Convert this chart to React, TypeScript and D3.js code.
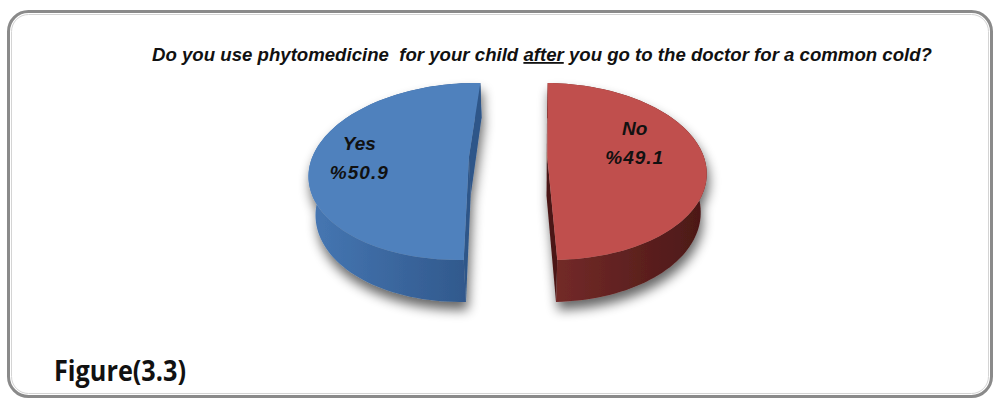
import React from 'react';
import * as d3 from 'd3';

// ---- data ----
const categories = ['No', 'Yes'];
const values = [49.1, 50.9];
const valueLabels = ['%49.1', '%50.9'];
const titleBefore = 'Do you use phytomedicine  for your child ';
const titleUnderlined = 'after';
const titleAfter = ' you go to the doctor for a common cold?';
const figureLabel = 'Figure(3.3)';

// ---- styles ----
const topColors = ['#C0504D', '#4F81BD'];
const wallFrom = ['#752b29', '#4677b3'];
const wallTo = ['#4b1817', '#2f5689'];
// label placement in pie coordinates (angle deg clockwise from back, radius fraction)
const labelPolar = [
  { angle: 73, r: 0.605 },
  { angle: 270, r: 0.7 },
];

const W = 995;
const H = 401;

// 3D projection params
const CX = 523;
const CY = 157;
const F = 802;
const DIST = 5.12;
const CAMX = 0.095;
const PHI = Math.asin(0.55);
const EXPLODE = 0.25;
const THICK = 0.305;

function project(X: number, Y: number, Z: number): [number, number] {
  const s = Math.sin(PHI);
  const c = Math.cos(PHI);
  const depth = DIST - Y * s - Z * c;
  const sy = Y * c - Z * s;
  return [CX + (F * (X - CAMX)) / depth, CY - (F * sy) / depth];
}

export default function App() {
  const start = ((180 - (values[0] / 100) * 360) / 2) * (Math.PI / 180);
  const pie = d3
    .pie<number>()
    .sort(null)
    .startAngle(start)
    .endAngle(start + 2 * Math.PI)
    .value((d) => d);
  const arcs = pie(values);
  const line = d3.line<[number, number]>().x((d) => d[0]).y((d) => d[1]);

  const slices = arcs.map((a, i) => {
    const mid = (a.startAngle + a.endAngle) / 2;
    const ox = Math.sin(mid) * EXPLODE;
    const oz = -Math.cos(mid) * EXPLODE;
    const n = 90;
    const angs = d3.range(n + 1).map((k) => a.startAngle + ((a.endAngle - a.startAngle) * k) / n);
    const rim = (t: number, Y: number) => project(ox + Math.sin(t), Y, oz - Math.cos(t));
    const topArc = angs.map((t) => rim(t, 0));
    const botArc = angs.map((t) => rim(t, -THICK)).reverse();
    const cTop = project(ox, 0, oz);
    const cBot = project(ox, -THICK, oz);
    const topPath = line([cTop, ...topArc])! + 'Z';
    const wallPath = line([...topArc, ...botArc])! + 'Z';
    const cut = (t: number) => line([cTop, rim(t, 0), rim(t, -THICK), cBot])! + 'Z';
    const xs = topArc.map((p) => p[0]);
    const lp = labelPolar[i];
    const la = (lp.angle * Math.PI) / 180;
    const lab = project(ox + Math.sin(la) * lp.r, 0, oz - Math.cos(la) * lp.r);
    return {
      i,
      topPath,
      wallPath,
      cut0: cut(a.startAngle),
      cut1: cut(a.endAngle),
      x0: d3.min(xs)!,
      x1: d3.max(xs)!,
      lab,
    };
  });

  const fontLabel = "'Liberation Sans', Arial, sans-serif";

  return (
    <svg
      width={W}
      height={H}
      style={{ position: 'absolute', left: 0, top: 0, background: '#fff' }}
      xmlns="http://www.w3.org/2000/svg"
    >
      <defs>
        <filter id="shadow" x="-20%" y="-20%" width="140%" height="150%">
          <feGaussianBlur in="SourceAlpha" stdDeviation="6" />
          <feOffset dx="2" dy="8" result="ob" />
          <feComponentTransfer>
            <feFuncA type="linear" slope="0.6" />
          </feComponentTransfer>
          <feMerge>
            <feMergeNode />
            <feMergeNode in="SourceGraphic" />
          </feMerge>
        </filter>
        {slices.map((s) => (
          <linearGradient
            key={s.i}
            id={`wall${s.i}`}
            gradientUnits="userSpaceOnUse"
            x1={s.x0}
            y1={0}
            x2={s.x1}
            y2={0}
          >
            <stop offset="0%" stopColor={wallFrom[s.i]} />
            <stop offset="100%" stopColor={wallTo[s.i]} />
          </linearGradient>
        ))}
      </defs>

      {/* frame */}
      <rect x={8.5} y={11.5} width={983} height={385} rx={20} fill="none" stroke="#8a8a8a" strokeWidth={3} />
      <rect x={11.5} y={14.5} width={977} height={379} rx={17} fill="none" stroke="#d4d4d4" strokeWidth={1} />

      {/* title */}
      <text
        x={152}
        y={61}
        fontFamily={fontLabel}
        fontWeight="bold"
        fontStyle="italic"
        fontSize={18}
        fill="#111"
        textLength={780}
        lengthAdjust="spacingAndGlyphs"
        style={{ whiteSpace: 'pre' }}
      >
        {titleBefore}
        <tspan textDecoration="underline">{titleUnderlined}</tspan>
        {titleAfter}
      </text>

      {/* pie */}
      {slices.map((s) => (
        <g key={s.i} filter="url(#shadow)">
          <path d={s.wallPath} fill={`url(#wall${s.i})`} />
          <path d={s.cut0} fill={wallTo[s.i]} />
          <path d={s.cut1} fill={wallTo[s.i]} />
          <path d={s.topPath} fill={topColors[s.i]} />
        </g>
      ))}

      {slices.map((s) => (
        <g key={`l${s.i}`} fontFamily={fontLabel} fontWeight="bold" fontStyle="italic" fontSize={19} fill="#111" textAnchor="middle">
          <text x={s.lab[0]} y={s.lab[1] - 7}>{categories[s.i]}</text>
          <text x={s.lab[0]} y={s.lab[1] + 22} letterSpacing={1}>{valueLabels[s.i]}</text>
        </g>
      ))}

      <text
        x={54}
        y={381}
        fontFamily="'Open Sans', 'Liberation Sans', sans-serif"
        fontWeight="bold"
        fontSize={28}
        fill="#111"
        textLength={132}
        lengthAdjust="spacingAndGlyphs"
      >
        {figureLabel}
      </text>
    </svg>
  );
}
